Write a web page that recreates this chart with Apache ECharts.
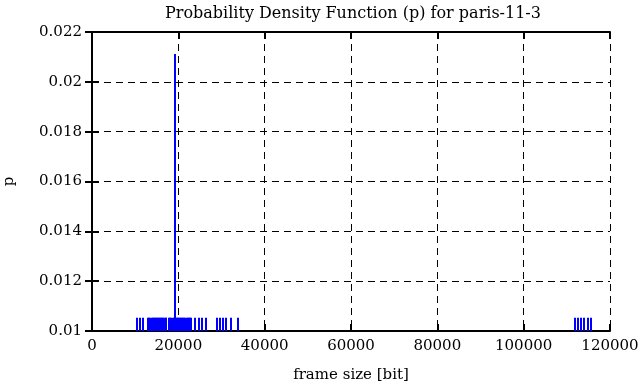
<!DOCTYPE html>
<html>
<head>
<meta charset="utf-8">
<script src="https://cdn.jsdelivr.net/npm/echarts@6/dist/echarts.min.js"></script>
<style>html,body{margin:0;padding:0;background:#fff}#c{width:641px;height:387px}</style>
</head>
<body>
<div id="c"></div>
<script>
// frame sizes (bit) and probability values
var frameSizes = [
  10350, 11160, 11850,
  13040, 13290, 13540, 13790, 14040, 14290, 14540, 14790, 15040, 15290, 15540, 15790, 16040, 16290, 16540, 16790, 17040, 17210,
  17910, 18160, 18410, 18660, 18910, 19160, 19270, 19410, 19660, 19910, 20160, 20410, 20660, 20910, 21160, 21410, 21660, 21910, 22160, 22410, 22660, 22860,
  23790, 24790, 25400, 26370, 28920, 29650, 30270, 30930, 32200, 33780,
  111890, 112520, 113210, 113900, 114830, 115670
];
var probs = [
  0.01053, 0.01053, 0.01053,
  0.01053, 0.01053, 0.01053, 0.01053, 0.01053, 0.01053, 0.01053, 0.01053, 0.01053, 0.01053, 0.01053, 0.01053, 0.01053, 0.01053, 0.01053, 0.01053, 0.01053, 0.01053,
  0.01053, 0.01053, 0.01053, 0.01053, 0.01053, 0.01053, 0.02112, 0.01053, 0.01053, 0.01053, 0.01053, 0.01053, 0.01053, 0.01053, 0.01053, 0.01053, 0.01053, 0.01053, 0.01053, 0.01053, 0.01053, 0.01053,
  0.01053, 0.01053, 0.01053, 0.01053, 0.01053, 0.01053, 0.01053, 0.01053, 0.01053, 0.01053,
  0.01053, 0.01053, 0.01053, 0.01053, 0.01053, 0.01053
];
var titleText = 'Probability Density Function (p) for paris-11-3';
var xName = 'frame size [bit]';
var yName = 'p';

var FONT = 'DejaVu Serif';
var FS = 15;
var data = frameSizes.map(function (x, i) { return [x, probs[i]]; });
var chart = echarts.init(document.getElementById('c'), null, {renderer: 'canvas'});
var gridLine = {show: true, lineStyle: {color: '#000', width: 1, type: [7, 5]}};
var axisLine = {show: true, lineStyle: {color: '#000', width: 2}};
var tick = {show: true, inside: true, length: 7, lineStyle: {color: '#000', width: 2}};
chart.setOption({
  animation: false,
  backgroundColor: '#fff',
  title: {text: titleText, left: 348, textAlign: 'center', top: 1,
    textStyle: {fontFamily: FONT, fontSize: 16, fontWeight: 'normal', color: '#000'}},
  grid: {left: 92, right: 31, top: 32, bottom: 56, containLabel: false, outerBoundsMode: 'none'},
  xAxis: [{
    type: 'value', min: 0, max: 120000, interval: 20000,
    name: xName, nameLocation: 'middle', nameGap: 37,
    nameTextStyle: {fontFamily: FONT, fontSize: FS, color: '#000'},
    axisLine: axisLine, axisTick: tick,
    axisLabel: {fontFamily: FONT, fontSize: FS, color: '#000', margin: 8,
      formatter: function (v) { return String(v); }},
    splitLine: gridLine
  }, {
    type: 'value', min: 0, max: 120000, interval: 20000, position: 'top',
    axisLine: axisLine, axisTick: tick,
    axisLabel: {show: false}, splitLine: {show: false}
  }],
  yAxis: [{
    type: 'value', min: 0.01, max: 0.022, interval: 0.002,
    name: yName, nameLocation: 'middle', nameGap: 75, nameRotate: 90,
    nameTextStyle: {fontFamily: FONT, fontSize: FS, color: '#000'},
    axisLine: axisLine, axisTick: tick,
    axisLabel: {fontFamily: FONT, fontSize: FS, color: '#000', margin: 10,
      formatter: function (v) { return String(+v.toFixed(3)); }},
    splitLine: gridLine
  }, {
    type: 'value', min: 0.01, max: 0.022, interval: 0.002, position: 'right',
    axisLine: axisLine, axisTick: tick,
    axisLabel: {show: false}, splitLine: {show: false}
  }],
  series: [{
    type: 'custom',
    xAxisIndex: 0, yAxisIndex: 0,
    clip: true,
    data: data,
    renderItem: function (params, api) {
      var p1 = api.coord([api.value(0), 0.01]);
      var p2 = api.coord([api.value(0), api.value(1)]);
      var x = Math.round(p1[0]);
      return {type: 'line', shape: {x1: x, y1: p1[1], x2: x, y2: p2[1]},
        style: {stroke: '#0000ff', lineWidth: 2}};
    },
    z: 1
  }]
});
</script>
</body>
</html>
